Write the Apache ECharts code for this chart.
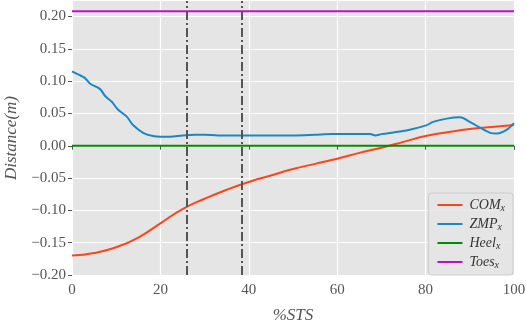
<!DOCTYPE html>
<html>
<head>
<meta charset="utf-8">
<script src="https://cdn.jsdelivr.net/npm/echarts@6/dist/echarts.min.js"></script>
<style>
  html, body { margin: 0; padding: 0; background: #fff; }
  #chart { width: 526px; height: 320px; }
</style>
</head>
<body>
<div id="chart"></div>
<script>
// data
const comX = [0, 5, 10, 15, 20, 25, 30, 35, 40, 45, 50, 55, 60, 65, 70, 75, 80, 85, 90, 95, 100]
const comY = [-0.170, -0.166, -0.157, -0.142, -0.120, -0.098, -0.082, -0.068, -0.056, -0.046, -0.036,
  -0.028, -0.020, -0.011, -0.003, 0.006, 0.015, 0.021, 0.026, 0.029, 0.032]

const zmpX = [0, 1.5, 2.9, 4.1, 6.3, 7.5, 9.0, 10.4, 12.4, 13.8, 16.1, 18.3, 20, 22.2, 25, 28, 30, 33,
  36, 40, 45, 50, 55, 58.8, 62, 66, 67.5, 68.6, 70, 74.2, 77.1, 80.3, 81.7, 84.8, 87.8, 90,
  92.3, 94.6, 96.2, 98.4, 100]
const zmpY = [0.115, 0.110, 0.105, 0.096, 0.088, 0.077, 0.068, 0.056, 0.045, 0.032, 0.020, 0.015,
  0.014, 0.014, 0.016, 0.017, 0.017, 0.016, 0.016, 0.016, 0.016, 0.016, 0.017, 0.018, 0.018,
  0.018, 0.018, 0.016, 0.018, 0.022, 0.026, 0.032, 0.037, 0.042, 0.044, 0.037, 0.028, 0.020,
  0.019, 0.025, 0.035]

const heelY = 0.0
const toesY = 0.208
const phaseLines = [26, 38.3]

const yTicks = [-0.20, -0.15, -0.10, -0.05, 0.00, 0.05, 0.10, 0.15, 0.20]

const seriesNames = ['COM', 'ZMP', 'Heel', 'Toes']
const seriesColors = ['#ff4419', '#1a87c2', '#008a00', '#bf10c9']

const font = 'Liberation Serif'
const zip = (xs, ys) => xs.map((x, i) => [x, ys[i]])

const chart = echarts.init(document.getElementById('chart'))

const lineSeries = (name, color, data, extra) => Object.assign({
  name: name,
  type: 'line',
  data: data,
  symbol: 'none',
  color: color,
  lineStyle: { width: 2, color: color },
  animation: false,
  z: 3
}, extra || {})

const option = {
  backgroundColor: '#fff',
  grid: {
    left: 72, right: 12, top: 1, bottom: 45,
    containLabel: false, outerBoundsMode: 'none',
    show: true, backgroundColor: '#e5e5e5', borderWidth: 0
  },
  xAxis: {
    type: 'value',
    min: 0,
    max: 100,
    interval: 20,
    name: '%STS',
    nameLocation: 'middle',
    nameGap: 32,
    nameTextStyle: { fontFamily: font, fontStyle: 'italic', fontSize: 17, color: '#555' },
    axisLine: { show: false },
    axisTick: { show: true, length: 4, lineStyle: { color: '#555', width: 1 } },
    axisLabel: { margin: 8, fontFamily: font, fontSize: 15, color: '#555' },
    splitLine: { show: true, lineStyle: { color: '#fff', width: 1.2 } }
  },
  yAxis: {
    type: 'value',
    min: -0.2,
    max: 0.224,
    interval: 0.05,
    name: 'Distance(m)',
    nameLocation: 'middle',
    nameGap: 51,
    nameTextStyle: { fontFamily: font, fontStyle: 'italic', fontSize: 17, color: '#555' },
    axisLine: { show: false },
    axisTick: { show: true, length: 4, customValues: yTicks, lineStyle: { color: '#555', width: 1 } },
    axisLabel: {
      margin: 6, fontFamily: font, fontSize: 15, color: '#555',
      customValues: yTicks,
      formatter: v => (v < -1e-9 ? '\u2212' : '') + Math.abs(v).toFixed(2)
    },
    splitLine: { show: true, lineStyle: { color: '#fff', width: 1.2 } }
  },
  legend: {
    orient: 'vertical',
    right: 13,
    top: 193,
    padding: [5, 8, 5, 9],
    itemGap: 4,
    itemWidth: 25,
    itemHeight: 2,
    icon: 'rect',
    backgroundColor: 'rgba(229,229,229,0.85)',
    borderColor: '#cccccc',
    borderWidth: 1,
    borderRadius: 3,
    data: seriesNames,
    formatter: n => '{i|' + n + '}{s|x}',
    textStyle: {
      color: '#333',
      rich: {
        i: { fontFamily: font, fontStyle: 'italic', fontSize: 14, color: '#333', padding: [0, 0, 0, 2] },
        s: { fontFamily: font, fontStyle: 'italic', fontSize: 10, color: '#333', padding: [6, 0, 0, 0] }
      }
    }
  },
  series: [
    lineSeries(seriesNames[0], seriesColors[0], zip(comX, comY), { smooth: true }),
    lineSeries(seriesNames[1], seriesColors[1], zip(zmpX, zmpY), { smooth: 0.3 }),
    lineSeries(seriesNames[2], seriesColors[2], [[0, heelY], [100, heelY]], {
      markLine: {
        silent: true,
        symbol: 'none',
        label: { show: false },
        lineStyle: { color: '#555', width: 2, type: [9, 3, 2, 3] },
        data: phaseLines.map(v => ({ xAxis: v }))
      }
    }),
    lineSeries(seriesNames[3], seriesColors[3], [[0, toesY], [100, toesY]])
  ]
}

chart.setOption(option)
</script>
</body>
</html>
